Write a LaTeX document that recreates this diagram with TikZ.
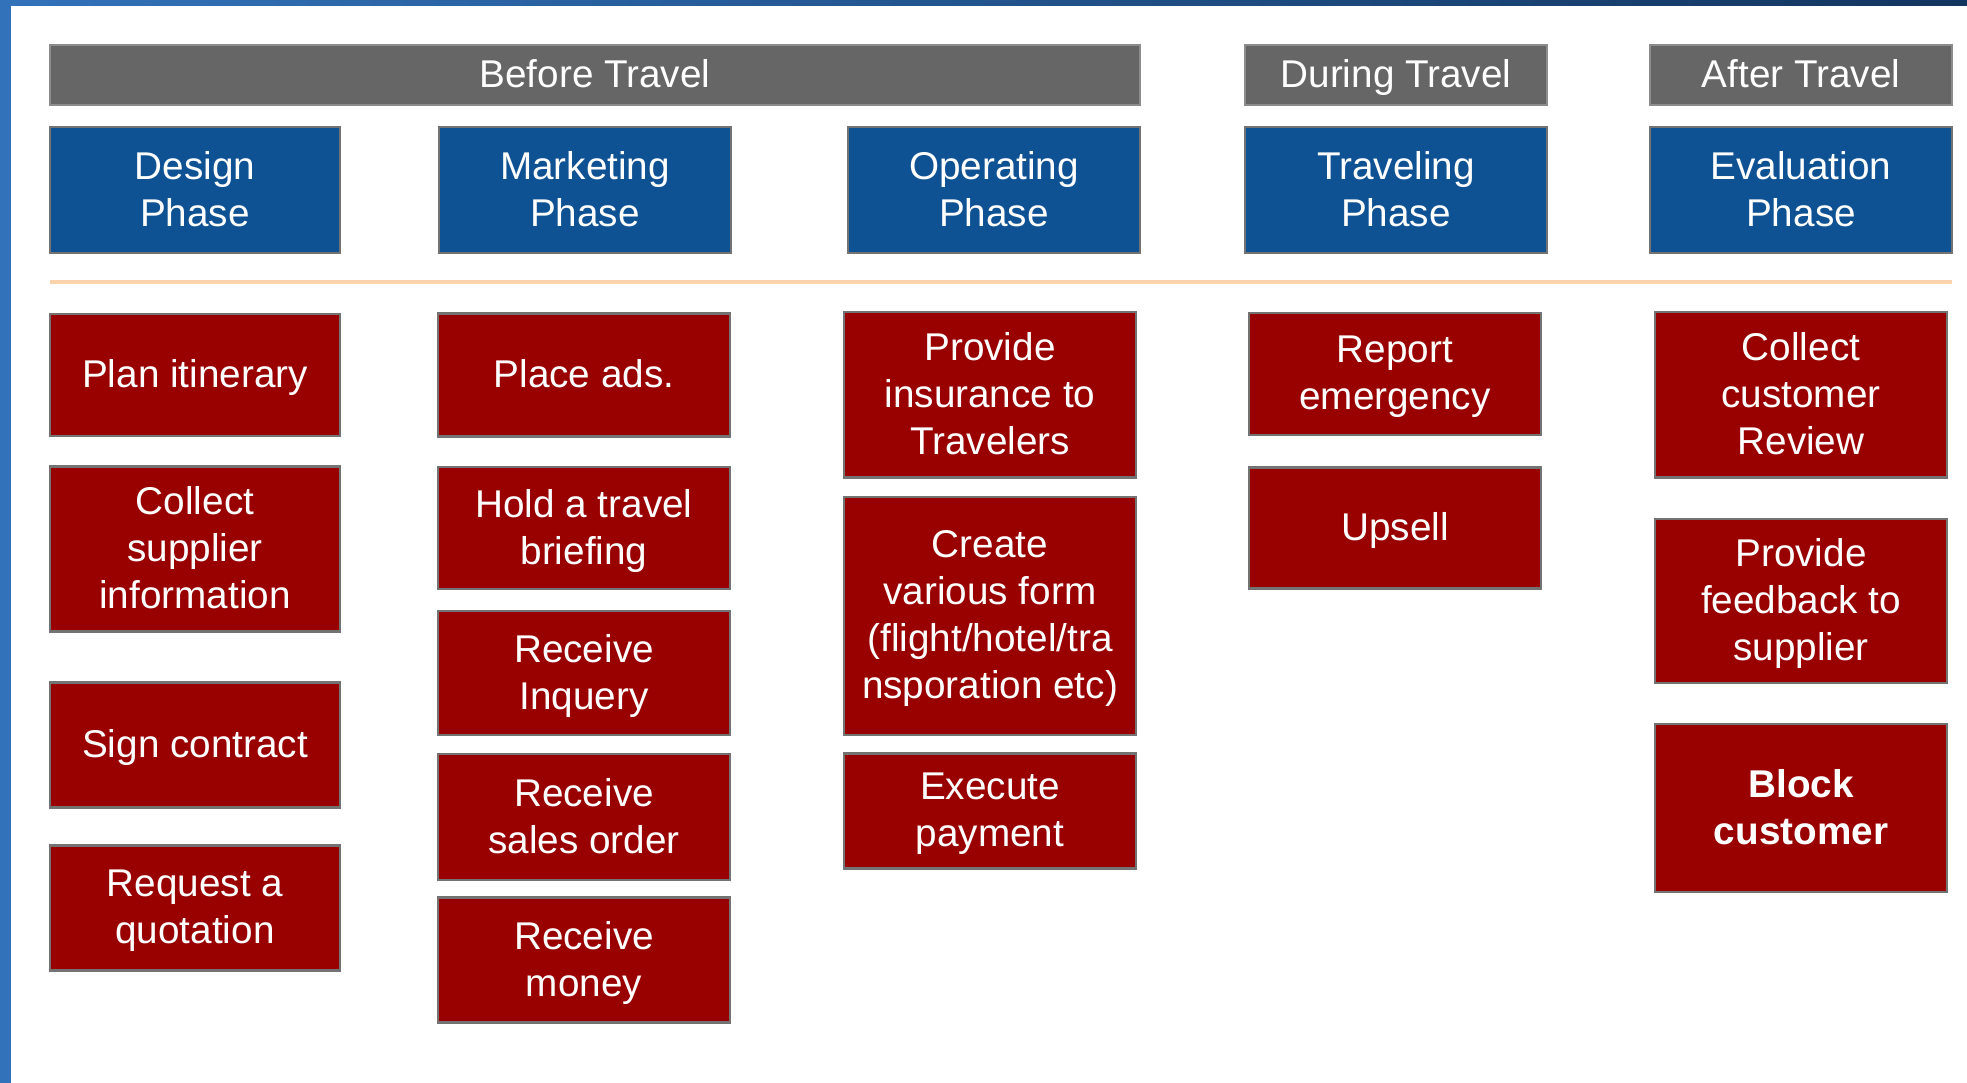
\documentclass[tikz,border=0pt]{standalone}
\usepackage{fontspec}
\setmainfont{Liberation Sans}
\usepackage{tikz}
\usetikzlibrary{calc}

\definecolor{barGray}{HTML}{666666}
\definecolor{phaseBlue}{HTML}{0F5294}
\definecolor{taskRed}{HTML}{990000}
\definecolor{ruleOrange}{HTML}{FAD2AC}
\definecolor{edgeBlueL}{HTML}{3272BA}
\definecolor{edgeBlueR}{HTML}{12355F}

\begin{document}
\begin{tikzpicture}[x=0.01cm, y=-0.01cm,
    every node/.style={text=white, align=center, inner sep=2pt, text depth=0.8pt,
        font=\fontsize{11}{13.4}\selectfont},
    travelbar/.style={fill=barGray, draw=black!45, line width=0.6pt, minimum height=0.6cm},
    phasebox/.style={fill=phaseBlue, draw=black!55, line width=0.6pt, minimum height=1.26cm},
    taskbox/.style={fill=taskRed, draw=black!55, line width=0.6pt, minimum width=2.91cm, minimum height=1.23cm}]
        \useasboundingbox (0,0) rectangle (1967,1083);
        % slide background
        \fill[left color=edgeBlueL, right color=edgeBlueR] (0,0) rectangle (1967,1083);
        \fill[white] (11,6) rectangle (1967,1083);

        % travel stages
        \node[travelbar, minimum width=10.9cm] (before) at (595,75) {Before Travel};
        \node[travelbar, minimum width=3.02cm] (during) at (1396,75) {During Travel};
        \node[travelbar, minimum width=3.02cm] (after) at (1801,75) {After Travel};

        % phases
        \node[phasebox, minimum width=2.9cm] (design) at (195,190) {Design\\Phase};
        \node[phasebox, minimum width=2.92cm] (marketing) at (585,190) {Marketing\\Phase};
        \node[phasebox, minimum width=2.91cm] (operating) at (994,190) {Operating\\Phase};
        \node[phasebox, minimum width=3.02cm] (traveling) at (1396,190) {Traveling\\Phase};
        \node[phasebox, minimum width=3.02cm] (evaluation) at (1801,190) {Evaluation\\Phase};

        \draw[ruleOrange, line width=0.9pt] (50,282) -- (1952,282);

        % design
        \node[taskbox, minimum width=2.89cm, minimum height=1.22cm] (plan) at (195,375) {Plan itinerary};
        \node[taskbox, minimum width=2.89cm, minimum height=1.65cm] (supplier) at (195,549) {Collect\\supplier\\information};
        \node[taskbox, minimum width=2.89cm, minimum height=1.25cm] (contract) at (195,745) {Sign contract};
        \node[taskbox, minimum width=2.89cm, minimum height=1.25cm] (quotation) at (195,908) {Request a\\quotation};

        % marketing
        \node[taskbox] (ads) at (584,375) {Place ads.};
        \node[taskbox, minimum height=1.22cm] (briefing) at (584,528) {Hold a travel\\briefing};
        \node[taskbox, minimum height=1.24cm] (inquery) at (584,673) {Receive\\Inquery};
        \node[taskbox, minimum height=1.26cm] (salesorder) at (584,817) {Receive\\sales order};
        \node[taskbox, minimum height=1.25cm] (money) at (584,960) {Receive\\money};

        % operating
        \node[taskbox, minimum height=1.65cm] (insurance) at (990,395) {Provide\\insurance to\\Travelers};
        \node[taskbox, minimum height=2.38cm] (forms) at (990,616) {Create\\various form\\(flight/hotel/tra\\nsporation etc)};
        \node[taskbox, minimum height=1.15cm] (payment) at (990,811) {Execute\\payment};

        % traveling
        \node[taskbox, minimum height=1.22cm] (emergency) at (1395,374) {Report\\emergency};
        \node[taskbox, minimum height=1.21cm] (upsell) at (1395,528) {Upsell};

        % evaluation
        \node[taskbox, minimum height=1.65cm] (review) at (1801,395) {Collect\\customer\\Review};
        \node[taskbox, minimum height=1.64cm] (feedback) at (1801,601) {Provide\\feedback to\\supplier};
        \node[taskbox, minimum height=1.68cm, font=\fontsize{11}{13.4}\selectfont\bfseries] (block) at (1801,808) {Block\\customer};
\end{tikzpicture}
\end{document}
